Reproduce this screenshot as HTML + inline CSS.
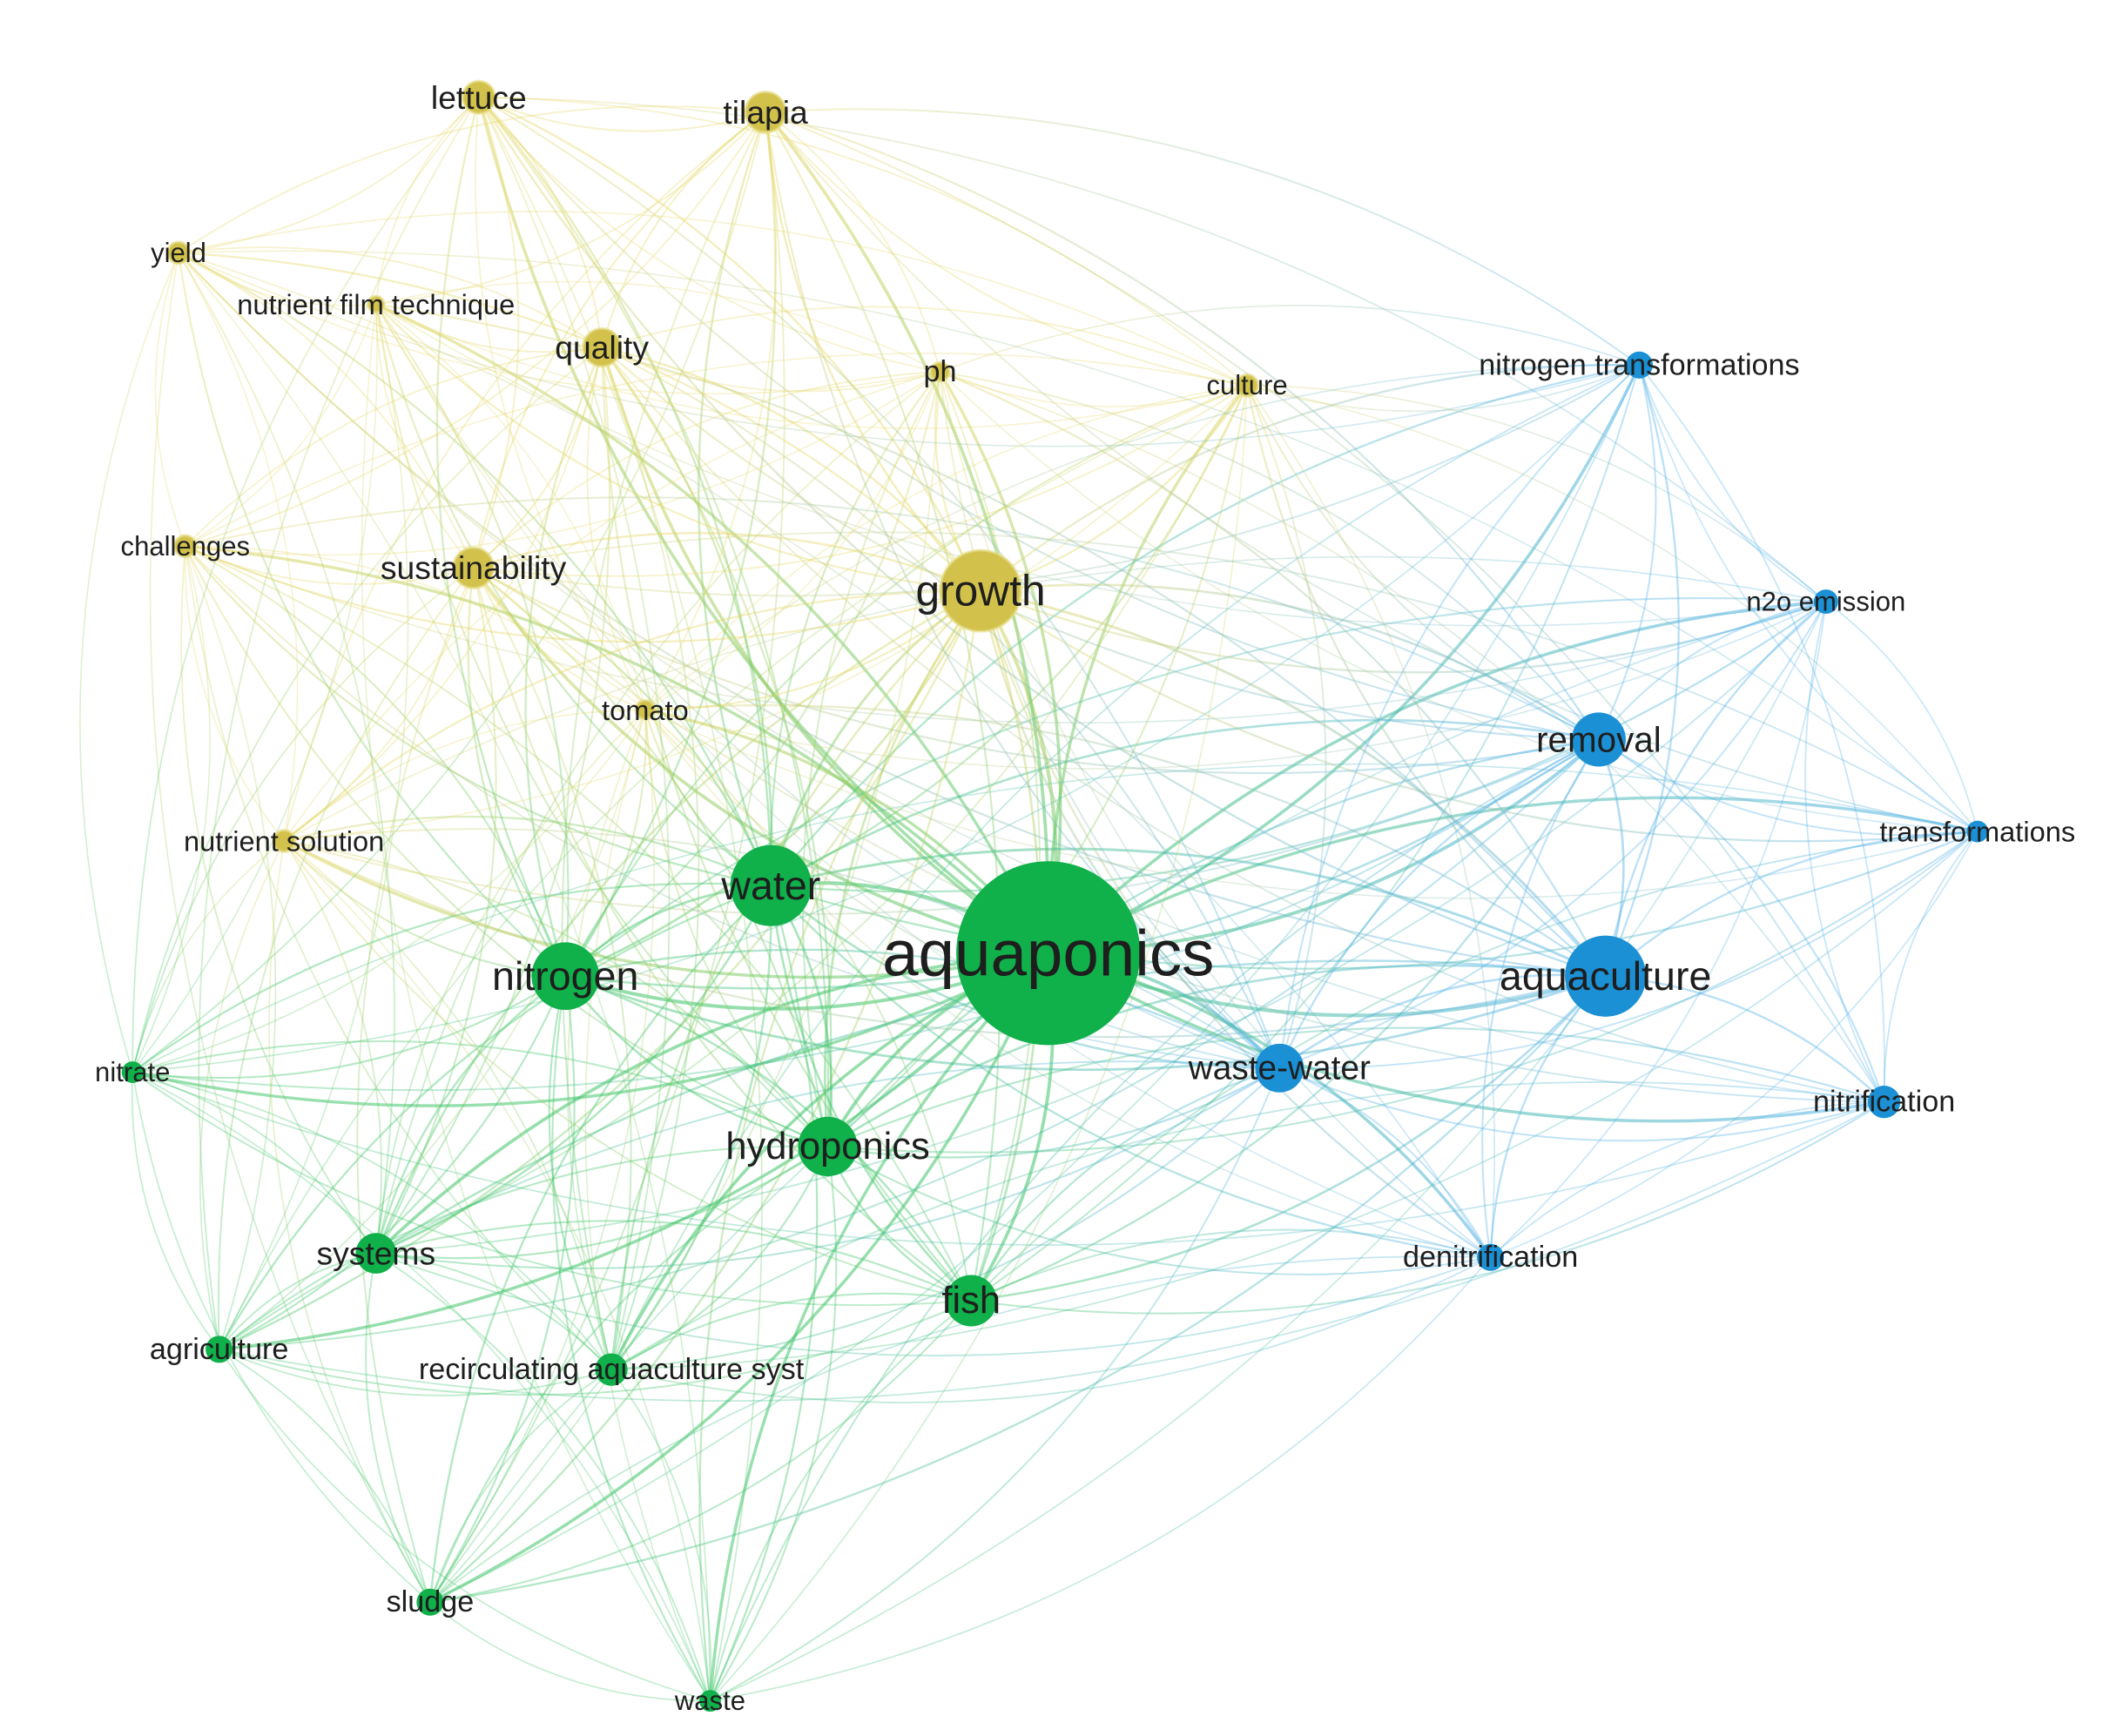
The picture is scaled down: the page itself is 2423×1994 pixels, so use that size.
<!DOCTYPE html>
<html><head><meta charset="utf-8"><style>
html,body{margin:0;padding:0;background:#fff}
svg{display:block}
text{font-family:"Liberation Sans","DejaVu Sans",sans-serif;fill:#1e1e1e;text-anchor:middle;dominant-baseline:central}
</style></head><body>
<svg id="s" width="2423" height="1994" viewBox="0 0 1560 1284" preserveAspectRatio="none" xmlns="http://www.w3.org/2000/svg">
<defs id="d"></defs>
<g id="e" fill="none"></g>
<g id="n"></g>
<g id="t"></g>
</svg>
<script>
var G="#12b24a",Y="#d8c64a",B="#1c93d8";
var EC={};EC[G]="#3cc466";EC[Y]="#e4d660";EC[B]="#4fb0e8";
var N=[
["aquaponics",775,705,68,G,48],["water",570,655,30,G,30],["nitrogen",418,722,25,G,30],
["hydroponics",612,848,22,G,28],["fish",718,962,19,G,28],["systems",278,927,15,G,24],
["agriculture",162,998,10,G,22],["recirculating aquaculture syst",452,1013,12,G,22],
["sludge",318,1185,10,G,22],["waste",525,1258,8,G,20],["nitrate",98,793,8,G,20],
["growth",725,437,30,Y,32],["lettuce",354,72,12,Y,24],["tilapia",566,83,15,Y,24],
["yield",132,187,8,Y,20],["nutrient film technique",278,225,6,Y,21],["quality",445,257,14,Y,24],
["ph",695,275,7,Y,22],["culture",922,285,8,Y,20],["challenges",137,404,8,Y,20],
["sustainability",350,420,15,Y,24],["tomato",477,525,7,Y,21],["nutrient solution",210,622,8,Y,21],
["nitrogen transformations",1212,270,10,B,22],["n2o emission",1350,445,9,B,20],
["removal",1182,547,20,B,26],["transformations",1462,615,8,B,21],["aquaculture",1187,722,30,B,30],
["waste-water",946,790,18,B,25],["nitrification",1393,815,12,B,22],["denitrification",1102,930,10,B,22]];
var ns="http://www.w3.org/2000/svg",d=document.getElementById("d"),eg=document.getElementById("e"),
ng=document.getElementById("n"),tg=document.getElementById("t"),k=0;
for(var i=0;i<N.length;i++)for(var j=i+1;j<N.length;j++){
 var a=N[i],b=N[j];
 var h=(i*7+j*13)%10; var dx=b[1]-a[1],dy=b[2]-a[2],L=Math.sqrt(dx*dx+dy*dy);
 if(a[4]!=b[4]&&L>700&&h<5)continue;
 if(h<2&&a[3]<15&&b[3]<15)continue;
 var id="g"+(k++);
 var lg=document.createElementNS(ns,"linearGradient");
 lg.setAttribute("id",id);lg.setAttribute("gradientUnits","userSpaceOnUse");
 lg.setAttribute("x1",a[1]);lg.setAttribute("y1",a[2]);lg.setAttribute("x2",b[1]);lg.setAttribute("y2",b[2]);
 lg.innerHTML='<stop offset="0" stop-color="'+EC[a[4]]+'"/><stop offset="1" stop-color="'+EC[b[4]]+'"/>';
 d.appendChild(lg);
 var c=((i+j)%2?1:-1)*0.18,mx=(a[1]+b[1])/2-dy*c,my=(a[2]+b[2])/2+dx*c;
 var p=document.createElementNS(ns,"path");
 p.setAttribute("d","M"+a[1]+","+a[2]+" Q"+mx+","+my+" "+b[1]+","+b[2]);
 var w=0.7+(a[3]+b[3])/50;
 p.setAttribute("stroke","url(#"+id+")");p.setAttribute("stroke-width",w.toFixed(2));
 p.setAttribute("stroke-opacity",(0.24+Math.min(0.3,(a[3]+b[3])/260)).toFixed(2));
 eg.appendChild(p);
}
N.forEach(function(a){
 var c=document.createElementNS(ns,"circle");
 c.setAttribute("cx",a[1]);c.setAttribute("cy",a[2]);c.setAttribute("r",a[3]);
 c.setAttribute("fill",a[4]==G?"#10b04a":a[4]==Y?"#d2c24c":"#1b90d4");
 if(a[4]==Y){c.setAttribute("stroke","#e6dc8a");c.setAttribute("stroke-width","2");c.setAttribute("stroke-opacity","0.6");}
 ng.appendChild(c);
 var t=document.createElementNS(ns,"text");
 t.setAttribute("x",a[1]);t.setAttribute("y",a[2]);t.setAttribute("font-size",a[5]);
 t.textContent=a[0];tg.appendChild(t);
});
</script>
</body></html>
